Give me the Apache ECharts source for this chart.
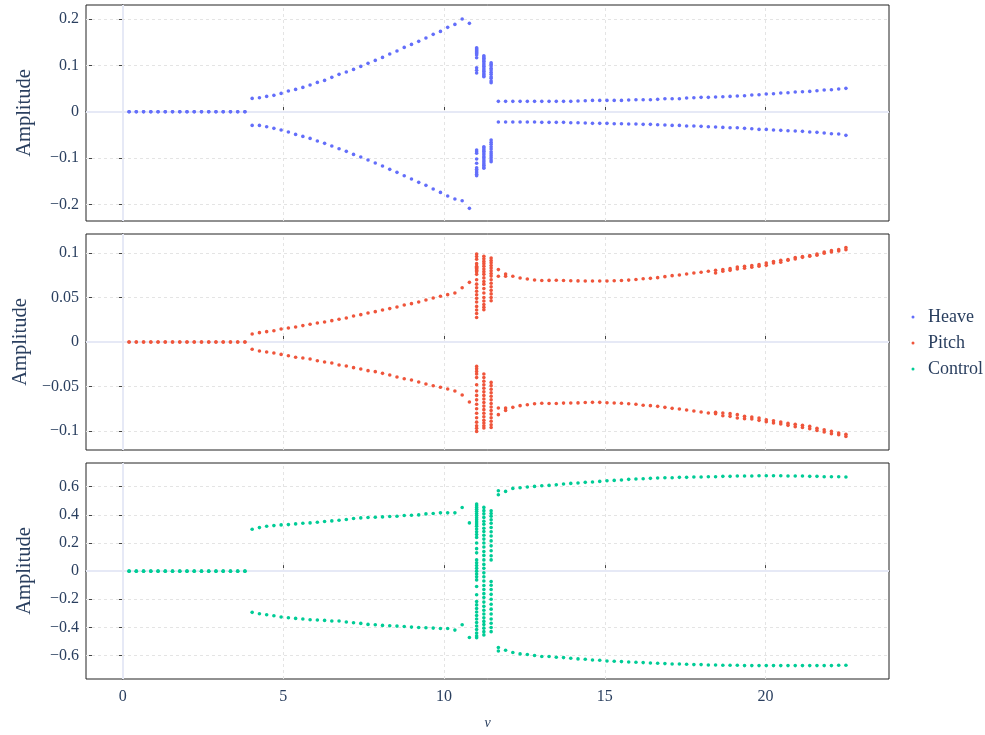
<!DOCTYPE html>
<html><head><meta charset="utf-8">
<script src="https://cdn.jsdelivr.net/npm/echarts@6/dist/echarts.min.js"></script>
<style>html,body{margin:0;padding:0;background:#fff}#c{width:985px;height:735px}</style>
</head><body><div id="c"></div><script>
// ---------- data ----------
const speeds = [
0.200, 0.425, 0.651, 0.876, 1.101, 1.326, 1.552, 1.777, 2.002, 2.227,
2.453, 2.678, 2.903, 3.128, 3.354, 3.579, 3.804, 4.029, 4.255, 4.480,
4.705, 4.930, 5.156, 5.381, 5.606, 5.831, 6.057, 6.282, 6.507, 6.732,
6.958, 7.183, 7.408, 7.633, 7.859, 8.084, 8.309, 8.534, 8.760, 8.985,
9.210, 9.435, 9.661, 9.886, 10.111, 10.336, 10.562, 10.787, 11.012, 11.237,
11.463, 11.688, 11.913, 12.138, 12.364, 12.589, 12.814, 13.039, 13.265, 13.490,
13.715, 13.940, 14.166, 14.391, 14.616, 14.841, 15.067, 15.292, 15.517, 15.742,
15.968, 16.193, 16.418, 16.643, 16.869, 17.094, 17.319, 17.544, 17.770, 17.995,
18.220, 18.445, 18.671, 18.896, 19.121, 19.346, 19.572, 19.797, 20.022, 20.247,
20.473, 20.698, 20.923, 21.148, 21.374, 21.599, 21.824, 22.049, 22.275, 22.500];

const heaveUpper = [
0,0,0,0,0,0,0,0,0,0,
0,0,0,0,0,0,0,0.0287,0.0302,0.0330,
0.0352,0.0395,0.0445,0.0481,0.0524,0.0575,0.0632,0.0675,0.0740,0.0805,
0.0855,0.0912,0.0977,0.1042,0.1106,0.1171,0.1243,0.1307,0.1386,0.1451,
0.1516,0.1588,0.1667,0.1731,0.1818,0.1882,0.1997,0.1904,null,null,
null,0.0223,0.0223,0.0223,0.0223,0.0223,0.0223,0.0223,0.0223,0.0223,
0.0223,0.0223,0.0230,0.0237,0.0244,0.0244,0.0244,0.0244,0.0244,0.0251,
0.0259,0.0259,0.0259,0.0266,0.0280,0.0280,0.0280,0.0295,0.0302,0.0309,
0.0309,0.0316,0.0323,0.0330,0.0338,0.0345,0.0359,0.0366,0.0381,0.0388,
0.0402,0.0409,0.0424,0.0431,0.0438,0.0453,0.0467,0.0474,0.0489,0.0503];

const heaveLower = [
0,0,0,0,0,0,0,0,0,0,
0,0,0,0,0,0,0,-0.0295,-0.0295,-0.0323,
-0.0359,-0.0395,-0.0438,-0.0489,-0.0532,-0.0575,-0.0632,-0.0682,-0.0740,-0.0797,
-0.0855,-0.0920,-0.0977,-0.1042,-0.1106,-0.1171,-0.1243,-0.1307,-0.1379,-0.1451,
-0.1523,-0.1588,-0.1667,-0.1739,-0.1818,-0.1882,-0.1918,-0.2083,null,null,
null,-0.0223,-0.0223,-0.0223,-0.0223,-0.0223,-0.0223,-0.0230,-0.0230,-0.0230,
-0.0230,-0.0237,-0.0237,-0.0244,-0.0251,-0.0251,-0.0251,-0.0259,-0.0259,-0.0266,
-0.0266,-0.0273,-0.0273,-0.0280,-0.0287,-0.0295,-0.0295,-0.0309,-0.0309,-0.0316,
-0.0323,-0.0330,-0.0338,-0.0345,-0.0345,-0.0359,-0.0366,-0.0381,-0.0381,-0.0395,
-0.0402,-0.0409,-0.0417,-0.0424,-0.0438,-0.0445,-0.0460,-0.0474,-0.0481,-0.0510];

const pitchUpper = [
0,0,0,0,0,0,0,0,0,0,
0,0,0,0,0,0,0,0.0090,0.0105,0.0116,
0.0127,0.0146,0.0157,0.0169,0.0184,0.0199,0.0213,0.0225,0.0240,0.0255,
0.0270,0.0292,0.0307,0.0326,0.0341,0.0360,0.0375,0.0393,0.0416,0.0431,
0.0449,0.0472,0.0494,0.0513,0.0532,0.0551,0.0610,0.0670,null,null,
null,0.0813,0.0764,0.0738,0.0719,0.0708,0.0697,0.0690,0.0692,0.0693,
0.0690,0.0688,0.0686,0.0685,0.0685,0.0685,0.0685,0.0688,0.0691,0.0695,
0.0702,0.0710,0.0715,0.0723,0.0734,0.0745,0.0753,0.0764,0.0775,0.0783,
0.0794,0.0805,0.0813,0.0824,0.0843,0.0850,0.0858,0.0869,0.0888,0.0903,
0.0918,0.0925,0.0948,0.0959,0.0970,0.0989,0.1011,0.1026,0.1037,0.1060];

const pitchUpperAlt = [
null,null,null,null,null,null,null,null,null,null,
null,null,null,null,null,null,null,null,null,null,
null,null,null,null,null,null,null,null,null,null,
null,null,null,null,null,null,null,null,null,null,
null,null,null,null,null,null,null,null,null,null,
null,0.0738,0.0738,null,null,null,null,null,null,null,
null,null,null,null,null,null,null,null,null,null,
null,null,null,null,null,null,null,null,null,null,
null,0.0775,0.0794,0.0805,0.0820,0.0828,0.0839,0.0850,0.0861,0.0888,
0.0895,0.0918,0.0933,0.0951,0.0963,0.0974,0.0996,0.1011,0.1022,0.1037];

const pitchLower = [
0,0,0,0,0,0,0,0,0,0,
0,0,0,0,0,0,0,-0.0082,-0.0101,-0.0112,
-0.0124,-0.0139,-0.0154,-0.0172,-0.0180,-0.0191,-0.0210,-0.0225,-0.0236,-0.0258,
-0.0270,-0.0288,-0.0303,-0.0322,-0.0333,-0.0352,-0.0371,-0.0393,-0.0412,-0.0427,
-0.0449,-0.0472,-0.0491,-0.0509,-0.0528,-0.0551,-0.0596,-0.0674,null,null,
null,-0.0742,-0.0742,-0.0734,-0.0715,-0.0704,-0.0693,-0.0688,-0.0690,-0.0690,
-0.0686,-0.0685,-0.0684,-0.0680,-0.0678,-0.0678,-0.0682,-0.0685,-0.0688,-0.0694,
-0.0700,-0.0710,-0.0715,-0.0723,-0.0734,-0.0745,-0.0753,-0.0764,-0.0775,-0.0787,
-0.0798,-0.0790,-0.0798,-0.0805,-0.0816,-0.0835,-0.0843,-0.0854,-0.0873,-0.0884,
-0.0899,-0.0914,-0.0925,-0.0936,-0.0948,-0.0970,-0.0985,-0.1004,-0.1022,-0.1037];

const pitchLowerAlt = [
null,null,null,null,null,null,null,null,null,null,
null,null,null,null,null,null,null,null,null,null,
null,null,null,null,null,null,null,null,null,null,
null,null,null,null,null,null,null,null,null,null,
null,null,null,null,null,null,null,null,null,null,
null,-0.0816,-0.0768,null,null,null,null,null,null,null,
null,null,null,null,null,null,null,null,null,null,
null,null,null,null,null,null,null,null,null,null,
null,-0.0805,-0.0828,-0.0835,-0.0854,-0.0861,-0.0865,-0.0880,-0.0895,-0.0910,
-0.0921,-0.0936,-0.0951,-0.0959,-0.0974,-0.0993,-0.1011,-0.1030,-0.1041,-0.1060];

const controlUpper = [
0,0,0,0,0,0,0,0,0,0,
0,0,0,0,0,0,0,0.2976,0.3095,0.3190,
0.3238,0.3286,0.3310,0.3357,0.3405,0.3429,0.3476,0.3524,0.3571,0.3619,
0.3667,0.3738,0.3786,0.3810,0.3833,0.3857,0.3881,0.3905,0.3952,0.3976,
0.4000,0.4071,0.4095,0.4143,0.4143,0.4143,0.4524,0.3429,null,null,
null,0.5720,0.5670,0.5881,0.5929,0.5976,0.6024,0.6071,0.6095,0.6143,
0.6190,0.6238,0.6262,0.6310,0.6333,0.6381,0.6429,0.6452,0.6476,0.6524,
0.6548,0.6571,0.6595,0.6619,0.6643,0.6643,0.6667,0.6667,0.6690,0.6690,
0.6714,0.6714,0.6738,0.6738,0.6762,0.6762,0.6762,0.6786,0.6786,0.6786,
0.6786,0.6762,0.6762,0.6762,0.6738,0.6738,0.6714,0.6714,0.6714,0.6690];

const controlLower = [
0,0,0,0,0,0,0,0,0,0,
0,0,0,0,0,0,0,-0.2929,-0.3024,-0.3095,
-0.3167,-0.3262,-0.3310,-0.3357,-0.3405,-0.3452,-0.3476,-0.3500,-0.3548,-0.3548,
-0.3619,-0.3667,-0.3714,-0.3786,-0.3810,-0.3857,-0.3881,-0.3905,-0.3929,-0.3976,
-0.4000,-0.4024,-0.4048,-0.4071,-0.4071,-0.4190,-0.3810,-0.4714,null,null,
null,-0.5430,-0.5620,-0.5786,-0.5881,-0.5929,-0.6000,-0.6071,-0.6071,-0.6119,
-0.6143,-0.6190,-0.6238,-0.6262,-0.6310,-0.6333,-0.6381,-0.6405,-0.6429,-0.6452,
-0.6476,-0.6500,-0.6524,-0.6548,-0.6571,-0.6595,-0.6595,-0.6619,-0.6643,-0.6643,
-0.6667,-0.6667,-0.6690,-0.6690,-0.6690,-0.6714,-0.6714,-0.6714,-0.6714,-0.6714,
-0.6714,-0.6714,-0.6714,-0.6714,-0.6714,-0.6714,-0.6714,-0.6714,-0.6690,-0.6690];

const controlAltSpeeds = [11.688];
const controlUpperAlt = [0.5430];
const controlLowerAlt = [-0.5670];

// transitional speeds where many amplitude samples were recorded
const burstSpeeds = [11.012, 11.237, 11.463];
const heaveBurst = [
 [0.1380,0.1358,0.1337,0.1315,0.1294,0.1272,0.1251,0.1222,0.1164,0.0948,0.0891,0.0834,
  -0.0825,-0.0862,-0.0897,-0.1019,-0.1112,-0.1207,-0.1242,-0.1278,-0.1315,-0.1349,-0.1379],
 [0.1207,0.1180,0.1150,0.1121,0.1085,0.1050,0.1012,0.0980,0.0940,0.0905,0.0870,0.0835,0.0800,0.0770,0.0754,
  -0.0754,-0.0780,-0.0820,-0.0855,-0.0890,-0.0930,-0.0970,-0.1000,-0.1040,-0.1080,-0.1120,-0.1155,-0.1190,-0.1220],
 [0.1056,0.1021,0.0985,0.0935,0.0899,0.0849,0.0806,0.0754,0.0719,0.0662,0.0625,
  -0.0610,-0.0660,-0.0703,-0.0754,-0.0804,-0.0862,-0.0905,-0.0948,-0.0991,-0.1041,-0.1078]];
const pitchBurst = [
 [0.0989,0.0960,0.0930,0.0880,0.0850,0.0840,0.0825,0.0810,0.0800,0.0790,0.0760,0.0700,0.0650,0.0610,0.0570,0.0530,0.0490,0.0450,0.0400,0.0360,0.0320,0.0276,
  -0.0274,-0.0300,-0.0330,-0.0360,-0.0400,-0.0480,-0.0550,-0.0600,-0.0650,-0.0700,-0.0750,-0.0800,-0.0850,-0.0900,-0.0940,-0.0970,-0.1004],
 [0.0962,0.0935,0.0905,0.0880,0.0850,0.0820,0.0790,0.0760,0.0720,0.0680,0.0650,0.0600,0.0550,0.0500,0.0460,0.0420,0.0390,0.0363,
  -0.0360,-0.0400,-0.0440,-0.0480,-0.0520,-0.0560,-0.0600,-0.0640,-0.0680,-0.0720,-0.0760,-0.0800,-0.0840,-0.0880,-0.0910,-0.0940,-0.0966],
 [0.0944,0.0915,0.0890,0.0860,0.0830,0.0800,0.0770,0.0740,0.0700,0.0660,0.0620,0.0580,0.0540,0.0500,0.0464,
  -0.0454,-0.0490,-0.0530,-0.0570,-0.0610,-0.0650,-0.0690,-0.0730,-0.0770,-0.0810,-0.0850,-0.0890,-0.0930,-0.0960]];
const controlBurst = [
 [0.477,0.465,0.452,0.440,0.425,0.410,0.395,0.380,0.365,0.350,0.335,0.320,0.300,0.280,0.260,0.240,0.200,0.160,0.130,0.080,
  0.060,0.040,0.020,0.000,-0.020,-0.040,-0.062,-0.109,-0.168,-0.216,-0.240,-0.265,-0.290,-0.315,-0.340,-0.365,-0.390,-0.415,-0.440,-0.460,-0.473],
 [0.453,0.430,0.408,0.382,0.355,0.333,0.305,0.282,0.255,0.228,0.200,0.172,0.140,0.112,0.080,0.048,0.020,
  -0.012,-0.040,-0.070,-0.102,-0.130,-0.160,-0.188,-0.220,-0.250,-0.278,-0.305,-0.332,-0.357,-0.380,-0.405,-0.430,-0.453],
 [0.429,0.410,0.390,0.365,0.340,0.310,0.280,0.250,0.215,0.180,0.145,0.110,0.080,
  -0.074,-0.100,-0.130,-0.165,-0.200,-0.235,-0.270,-0.305,-0.340,-0.370,-0.400,-0.430]];

const vTicks = [0, 5, 10, 15, 20];
const heaveTicks = [-0.2, -0.1, 0, 0.1, 0.2];
const pitchTicks = [-0.1, -0.05, 0, 0.05, 0.1];
const controlTicks = [-0.6, -0.4, -0.2, 0, 0.2, 0.4, 0.6];
const seriesNames = ['Heave', 'Pitch', 'Control'];

// ---------- build ----------
function pts(xs, ys) { const o = []; ys.forEach((y, i) => { if (y !== null) o.push([xs[i], y]); }); return o; }
function burstPts(xs, groups) { const o = []; groups.forEach((g, k) => g.forEach(y => o.push([xs[k], y]))); return o; }

const heaveData = [].concat(pts(speeds, heaveUpper), pts(speeds, heaveLower), burstPts(burstSpeeds, heaveBurst));
const pitchData = [].concat(pts(speeds, pitchUpper), pts(speeds, pitchLower), pts(speeds, pitchUpperAlt), pts(speeds, pitchLowerAlt), burstPts(burstSpeeds, pitchBurst));
const controlData = [].concat(pts(speeds, controlUpper), pts(speeds, controlLower), pts(controlAltSpeeds, controlUpperAlt), pts(controlAltSpeeds, controlLowerAlt), burstPts(burstSpeeds, controlBurst));

const FONT = "'Times New Roman','Liberation Serif','DejaVu Serif',serif";
const TXT = '#2a3f5f';
const COLORS = ['#636efa', '#EF553B', '#00cc96'];
const tops = [5, 234, 463];
const yRanges = [[-0.2356, 0.23], [-0.1213, 0.1213], [-0.7665, 0.7687]];
const yTickSets = [heaveTicks, pitchTicks, controlTicks];
const dataSets = [heaveData, pitchData, controlData];
const minus = v => (v < 0 ? '\u2212' + (-v) : String(v));

const grid = [], xAxis = [], yAxis = [], series = [];
for (let k = 0; k < 3; k++) {
  grid.push({ left: 86, width: 803, top: tops[k], height: 216, show: true, borderColor: '#222', borderWidth: 1, backgroundColor: 'transparent' });
  xAxis.push({
    type: 'value', gridIndex: k, min: -1.14, max: 23.84,
    axisLine: { show: true, lineStyle: { color: '#222', width: 1 } },
    axisTick: { show: true, inside: true, length: 6, customValues: vTicks, lineStyle: { color: '#444' } },
    axisLabel: { show: k === 2, customValues: vTicks, fontFamily: FONT, fontSize: 16, color: TXT, margin: 10 },
    splitLine: { show: false },
    name: k === 2 ? 'v' : '', nameLocation: 'middle', nameGap: 37,
    nameTextStyle: { fontFamily: FONT, fontSize: 14, fontStyle: 'italic', color: TXT }
  });
  yAxis.push({
    type: 'value', gridIndex: k, position: 'left', min: yRanges[k][0], max: yRanges[k][1],
    axisLine: { show: true, lineStyle: { color: '#222', width: 1 } },
    axisTick: { show: true, inside: false, length: 4, customValues: yTickSets[k], lineStyle: { color: '#444' } },
    axisLabel: { customValues: yTickSets[k], formatter: minus, fontFamily: FONT, fontSize: 16, color: TXT, margin: 7 },
    splitLine: { show: false },
    name: 'Amplitude', nameLocation: 'middle', nameGap: 51,
    nameTextStyle: { fontFamily: FONT, fontSize: 20.5, color: TXT }
  });
}
for (let k = 0; k < 3; k++) {
  yAxis.push({
    type: 'value', gridIndex: k, position: 'left', offset: 0, min: yRanges[k][0], max: yRanges[k][1],
    axisLine: { show: false },
    axisTick: { show: true, inside: true, length: 6, customValues: yTickSets[k], lineStyle: { color: '#444' } },
    axisLabel: { show: false }, splitLine: { show: false }
  });
}
for (let k = 0; k < 3; k++) {
  const gl = [];
  vTicks.forEach(v => gl.push(v === 0
    ? { xAxis: v, lineStyle: { color: '#e6e9f6', width: 2, type: 'solid' } }
    : { xAxis: v, lineStyle: { color: '#e4e4e4', width: 1, type: [3, 3] } }));
  yTickSets[k].forEach(v => gl.push(v === 0
    ? { yAxis: v, lineStyle: { color: '#e6e9f6', width: 2, type: 'solid' } }
    : { yAxis: v, lineStyle: { color: '#e4e4e4', width: 1, type: [3, 3] } }));
  series.push({
    type: 'scatter', xAxisIndex: k, yAxisIndex: k, data: [], silent: true, z: 1,
    markLine: { silent: true, symbol: ['none', 'none'], label: { show: false }, emphasis: { disabled: true }, animation: false, data: gl }
  });
}
for (let k = 0; k < 3; k++) {
  series.push({
    name: seriesNames[k], type: 'scatter', xAxisIndex: k, yAxisIndex: k, z: 10,
    symbol: 'circle', symbolSize: 3.6, itemStyle: { color: COLORS[k], opacity: 1 },
    data: dataSets[k]
  });
}

const chart = echarts.init(document.getElementById('c'), null, { renderer: 'canvas' });
chart.setOption({
  animation: false,
  backgroundColor: '#ffffff',
  grid, xAxis, yAxis, series,
  legend: {
    data: seriesNames, orient: 'vertical', right: 2, top: 308, padding: 0, itemGap: 8,
    itemWidth: 20, itemHeight: 3, icon: 'circle',
    textStyle: { fontFamily: FONT, fontSize: 18, color: TXT }
  }
});
</script></body></html>
